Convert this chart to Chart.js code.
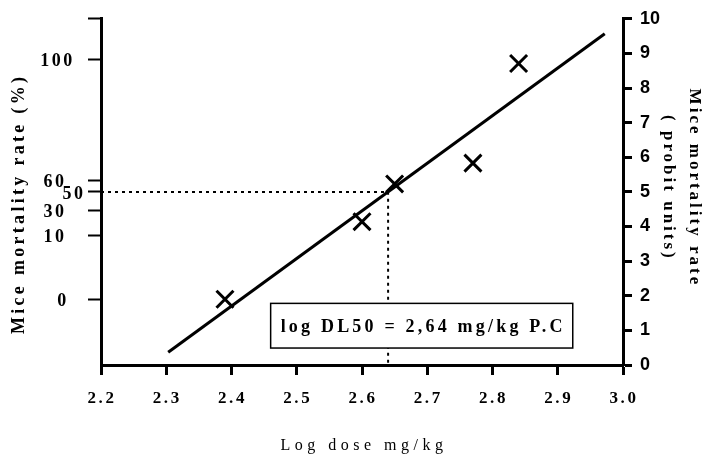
<!DOCTYPE html>
<html><head><meta charset="utf-8">
<script src="https://cdn.jsdelivr.net/npm/chart.js@4/dist/chart.umd.min.js"></script>
<style>html,body{margin:0;padding:0;background:#fff;}canvas{display:block;}</style>
</head><body>
<canvas id="c" width="707" height="457"></canvas>
<script>
// ---- data ----
const logDose = [2.39, 2.60, 2.65, 2.77, 2.84];
const probitValues = [1.90, 4.14, 5.23, 5.83, 8.71];
const fitDose = [2.303, 2.972];
const fitProbit = [0.37, 9.57];
const ld50Dose = 2.64;
const ld50Probit = 5;
const xTickValues = [2.2, 2.3, 2.4, 2.5, 2.6, 2.7, 2.8, 2.9, 3.0];
const probitTickValues = [0, 1, 2, 3, 4, 5, 6, 7, 8, 9, 10];
const pctLabels = ['100', '60', '50', '30', '10', '0'];
const pctProbit = [8.83, 5.33, 5.0, 4.47, 3.75, 1.89];
const annotationText = 'log DL50 = 2,64 mg/kg P.C';

const BLACK = '#000';
const SERIF = "'Liberation Serif', 'Times New Roman', serif";
const SANS = "'Liberation Sans', Arial, sans-serif";

const spacingPlugin = {
  id: 'spacing',
  beforeDraw(chart) {
    const wrap = (scale, name, sp, dx, dy) => {
      if (!scale || scale['_ls_' + name]) return;
      const orig = scale[name];
      scale[name] = function (...args) {
        const c = this.ctx;
        c.save();
        c.letterSpacing = sp;
        c.translate(dx, dy);
        try { return orig.apply(this, args); } finally { c.restore(); }
      };
      scale['_ls_' + name] = true;
    };
    wrap(chart.scales.x, 'drawLabels', '2.6px', 1, 0);
    wrap(chart.scales.x, 'drawTitle', '4.5px', 2, -2);
    wrap(chart.scales.y, 'drawTitle', '3.3px', 0, 12);
    wrap(chart.scales.y2, 'drawTitle', '3px', 0, -4);
  }
};

const leftLabelPlugin = {
  id: 'leftLabels',
  afterDraw(chart, args, opts) {
    const c = chart.ctx, ys = chart.scales.y;
    c.save();
    c.letterSpacing = '2.5px';
    c.font = 'bold 18px ' + SERIF;
    c.fillStyle = BLACK;
    c.textAlign = 'center';
    c.textBaseline = 'middle';
    pctLabels.forEach((t, i) => {
      c.fillText(t, opts.centers[i] + 1.5, ys.getPixelForValue(pctProbit[i]) + 2);
    });
    c.restore();
  }
};

const boxPlugin = {
  id: 'ldBox',
  afterDatasetsDraw(chart, args, opts) {
    const c = chart.ctx, xs = chart.scales.x, ys = chart.scales.y2;
    const x0 = xs.getPixelForValue(opts.x0), x1 = xs.getPixelForValue(opts.x1);
    const y0 = ys.getPixelForValue(opts.y0), y1 = ys.getPixelForValue(opts.y1);
    c.save();
    c.fillStyle = '#fff';
    c.fillRect(x0, y0, x1 - x0, y1 - y0);
    c.strokeStyle = BLACK; c.lineWidth = 1.5;
    c.strokeRect(x0, y0, x1 - x0, y1 - y0);
    c.letterSpacing = '3.2px';
    c.font = 'bold 18px ' + SERIF;
    c.fillStyle = BLACK;
    c.textAlign = 'center';
    c.textBaseline = 'middle';
    c.fillText(annotationText, (x0 + x1) / 2 + 1.5, (y0 + y1) / 2 + 2);
    c.restore();
  }
};

new Chart(document.getElementById('c'), {
  type: 'scatter',
  data: {
    datasets: [
      {
        type: 'line', showLine: true, yAxisID: 'y2',
        data: fitDose.map((x, i) => ({ x, y: fitProbit[i] })),
        borderColor: BLACK, borderWidth: 3, pointRadius: 0, fill: false, tension: 0
      },
      {
        type: 'line', showLine: true, yAxisID: 'y2',
        data: [{ x: 2.2, y: ld50Probit }, { x: ld50Dose, y: ld50Probit }, { x: ld50Dose, y: 0 }],
        borderColor: BLACK, borderWidth: 2, borderDash: [3, 4], pointRadius: 0, fill: false, tension: 0
      },
      {
        yAxisID: 'y2',
        data: logDose.map((x, i) => ({ x, y: probitValues[i] })),
        pointStyle: 'crossRot', pointRadius: 12, pointBorderWidth: 3,
        borderColor: BLACK, backgroundColor: BLACK
      }
    ]
  },
  options: {
    responsive: false, animation: false, devicePixelRatio: 1,
    layout: { padding: { top: 16, right: 0, bottom: 0, left: 0 } },
    plugins: {
      legend: { display: false }, tooltip: { enabled: false },
      leftLabels: { centers: [56, 53.5, 72.5, 53.5, 53.5, 61.5] },
      ldBox: { x0: 2.46, x1: 2.923, y0: 1.78, y1: 0.49 }
    },
    scales: {
      x: {
        type: 'linear', position: 'bottom', min: 2.2, max: 3.0,
        afterBuildTicks: s => { s.ticks = xTickValues.map(v => ({ value: v })); },
        afterFit: s => { s.height = 92; },
        ticks: { callback: v => Number(v).toFixed(1), font: { family: SERIF, size: 17, weight: 'bold' }, color: BLACK, padding: 13, maxRotation: 0 },
        grid: { drawOnChartArea: false, drawTicks: true, tickLength: 10, tickWidth: 3, tickColor: BLACK, color: BLACK },
        border: { display: true, color: BLACK, width: 3 },
        title: { display: true, text: 'Log dose mg/kg', color: BLACK, font: { family: SERIF, size: 16, weight: 'normal' }, padding: { top: 0, bottom: 0 } }
      },
      y: {
        type: 'linear', position: 'left', min: 0, max: 10,
        afterBuildTicks: s => { s.ticks = [10].concat(pctProbit).map(v => ({ value: v })); },
        afterFit: s => { s.width = 101; },
        ticks: { display: false },
        grid: { drawOnChartArea: false, drawTicks: true, tickLength: 13, tickWidth: 2, tickColor: BLACK, color: BLACK },
        border: { display: true, color: BLACK, width: 3 },
        title: { display: true, text: 'Mice mortality rate (%)', color: BLACK, font: { family: SERIF, size: 18, weight: 'bold' }, padding: { top: 9, bottom: 0 } }
      },
      y2: {
        type: 'linear', position: 'right', min: 0, max: 10,
        afterBuildTicks: s => { s.ticks = probitTickValues.map(v => ({ value: v })); },
        afterFit: s => { s.width = 84; },
        ticks: { font: { family: SANS, size: 18, weight: 'bold' }, color: BLACK, padding: 8 },
        grid: { drawOnChartArea: false, drawTicks: true, tickLength: 9, tickWidth: 3, tickColor: BLACK, color: BLACK },
        border: { display: true, color: BLACK, width: 3 },
        title: { display: true, text: ['Mice mortality rate', '( probit units)'], color: BLACK, font: { family: SERIF, size: 17, weight: 'bold', lineHeight: 1.53 }, padding: { top: 0, bottom: 0 } }
      }
    }
  },
  plugins: [spacingPlugin, leftLabelPlugin, boxPlugin]
});
</script>
</body></html>
